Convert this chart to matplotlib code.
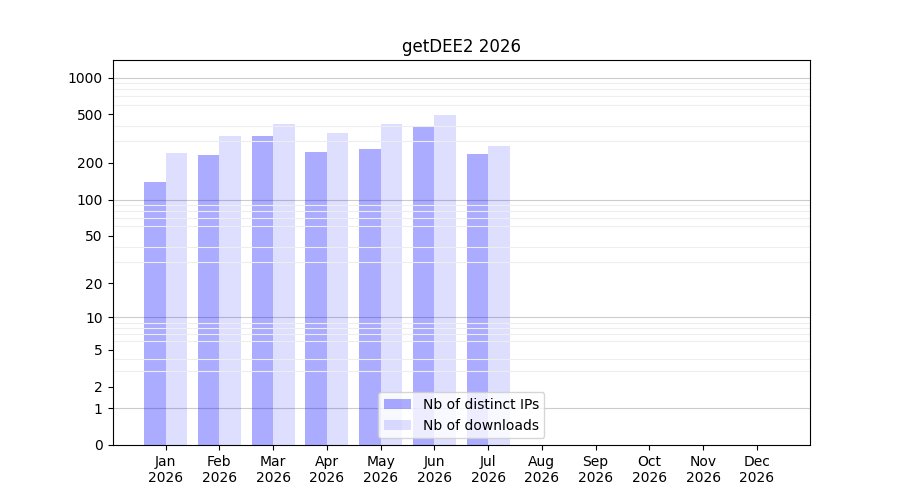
import matplotlib
matplotlib.use("Agg")
import matplotlib.pyplot as plt
import numpy as np
from matplotlib.ticker import FixedLocator, NullFormatter

# monthly stats for getDEE2 (months after Jul have no data yet)
months = ['Jan', 'Feb', 'Mar', 'Apr', 'May', 'Jun', 'Jul', 'Aug', 'Sep', 'Oct', 'Nov', 'Dec']
year = '2026'
distinct_ips = [139, 232, 332, 245, 260, 401, 237, 0, 0, 0, 0, 0]
downloads = [241, 332, 416, 351, 416, 493, 275, 0, 0, 0, 0, 0]

fig, ax = plt.subplots(figsize=(9, 5), dpi=100)

x = np.arange(len(months))
ax.bar(x - 0.2, distinct_ips, width=0.4, color='blue', alpha=0.33, label='Nb of distinct IPs')
ax.bar(x + 0.2, downloads, width=0.4, color='blue', alpha=0.13, label='Nb of downloads')

# log(1 + n) scale so that zero fits on the axis
ax.set_yscale('function', functions=(lambda v: np.log10(np.maximum(v, 0) + 1),
                                     lambda v: 10 ** v - 1))
ax.set_ylim(0, 1390)

major = [0, 1, 2, 5, 10, 20, 50, 100, 200, 500, 1000]
ax.set_yticks(major)
ax.set_yticklabels([str(v) for v in major])

# light lines on every 1..9 x 10^k, darker lines on the decades
minor = [m * 10 ** k for k in range(0, 4) for m in range(2, 10) if m * 10 ** k < 1390]
ax.yaxis.set_minor_locator(FixedLocator(minor))
ax.yaxis.set_minor_formatter(NullFormatter())
ax.tick_params(axis='y', which='minor', length=0)
ax.grid(axis='y', which='minor', color='#eeeeee', linewidth=0.8)
for d in [1, 10, 100, 1000]:
    ax.axhline(d, color='#cccccc', linewidth=0.8, zorder=0.5)

ax.set_xticks(x)
ax.set_xticklabels([m + '\n' + year for m in months])

ax.set_title('getDEE2 ' + year)
ax.legend(loc='lower center')

fig.savefig('out.png')
